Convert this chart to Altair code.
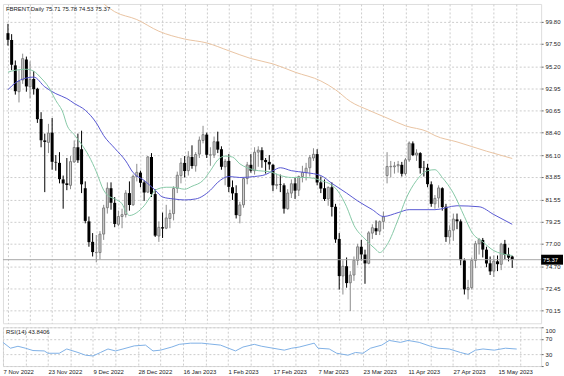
import json
import altair as alt
import pandas as pd

symbol = "FBRENT,Daily"
rsi_name = "RSI(14)"
rsi_last = "43.8406"

date_labels = ["7 Nov 2022", "23 Nov 2022", "9 Dec 2022", "28 Dec 2022", "16 Jan 2023",
               "1 Feb 2023", "17 Feb 2023", "7 Mar 2023", "23 Mar 2023", "11 Apr 2023",
               "27 Apr 2023", "15 May 2023"]

opens = [98.60, 97.90, 95.30, 92.60, 93.80, 95.90, 93.10, 93.90, 92.90, 89.80,
         87.60, 87.40, 88.40, 85.40, 85.30, 83.60, 83.20, 83.00, 85.40, 86.90,
         86.70, 82.70, 79.30, 77.20, 76.10, 76.10, 78.00, 80.70, 82.70, 81.20,
         79.00, 79.80, 80.00, 82.20, 81.00, 83.90, 84.30, 83.30, 82.30, 85.90,
         82.10, 77.80, 78.70, 78.60, 79.60, 80.10, 82.70, 84.00, 85.30, 84.50,
         85.90, 85.00, 86.20, 87.60, 88.20, 86.10, 86.10, 87.50, 86.70, 84.90,
         85.50, 82.80, 82.20, 79.90, 81.00, 83.70, 85.10, 84.50, 86.40, 86.60,
         85.60, 85.40, 85.10, 83.00, 83.10, 83.00, 80.60, 82.20, 83.20, 82.50,
         83.90, 84.30, 84.80, 85.80, 86.20, 83.30, 82.70, 81.60, 82.80, 80.80,
         77.50, 73.70, 74.70, 73.00, 73.80, 75.30, 76.70, 75.90, 75.00, 78.10,
         78.60, 78.30, 79.30, 84.00, 84.90, 84.90, 85.00, 85.10, 84.20, 85.60,
         87.30, 86.10, 86.30, 84.80, 84.80, 83.10, 81.10, 81.70, 82.70, 80.80,
         77.70, 78.40, 79.50, 79.30, 75.30, 72.30, 72.50, 75.30, 77.00, 77.40,
         76.40, 75.00, 74.20, 75.20, 74.90, 77.00, 75.90, 75.71]
highs = [99.56, 98.50, 95.80, 94.80, 96.50, 96.20, 95.70, 94.70, 93.00, 90.50,
         88.30, 89.30, 89.90, 86.10, 86.40, 84.00, 85.80, 86.00, 87.60, 88.30,
         88.60, 83.40, 79.80, 78.10, 77.90, 78.30, 81.00, 83.30, 83.30, 81.80,
         80.40, 80.60, 82.50, 83.40, 84.10, 85.20, 84.50, 83.50, 86.00, 86.30,
         82.60, 79.30, 80.20, 81.00, 80.50, 82.90, 84.40, 85.80, 86.00, 86.50,
         87.10, 86.40, 88.00, 89.10, 88.40, 86.90, 88.00, 88.50, 87.00, 85.70,
         86.20, 83.50, 83.00, 81.30, 83.80, 85.40, 86.20, 86.90, 87.00, 86.90,
         85.80, 86.10, 85.20, 84.20, 84.10, 83.20, 82.60, 83.60, 83.80, 84.00,
         85.00, 85.30, 86.10, 86.80, 86.70, 83.90, 83.60, 82.90, 83.30, 81.10,
         78.10, 75.30, 75.60, 74.20, 75.70, 77.00, 77.40, 76.40, 78.30, 79.00,
         79.40, 79.40, 80.30, 86.40, 85.50, 85.40, 85.50, 85.40, 85.80, 87.50,
         87.50, 86.70, 86.40, 85.50, 85.20, 83.40, 82.00, 83.00, 82.80, 81.10,
         78.90, 80.10, 80.10, 79.50, 75.50, 73.30, 75.60, 77.30, 77.60, 77.60,
         76.70, 75.70, 75.80, 75.80, 77.10, 77.40, 76.60, 75.78]
lows = [97.33, 94.81, 92.30, 91.50, 93.40, 92.60, 91.90, 92.30, 89.40, 86.90,
        82.30, 86.30, 84.60, 84.50, 83.20, 80.60, 82.50, 82.60, 85.30, 85.30,
        82.20, 79.10, 76.70, 75.70, 75.10, 75.40, 77.40, 80.10, 80.50, 78.70,
        78.80, 78.60, 79.70, 80.40, 80.90, 83.40, 82.80, 81.40, 82.20, 81.80,
        77.70, 77.20, 77.60, 78.50, 78.60, 79.40, 82.20, 83.20, 83.80, 84.00,
        84.70, 84.40, 85.80, 87.30, 85.80, 85.00, 85.80, 86.30, 84.60, 83.00,
        82.30, 81.50, 79.60, 79.10, 80.70, 83.10, 84.30, 84.10, 84.90, 84.80,
        84.20, 84.60, 82.40, 82.60, 82.30, 80.10, 80.50, 81.70, 81.60, 81.90,
        83.30, 83.50, 83.90, 85.50, 83.00, 82.20, 81.40, 80.90, 79.80, 77.10,
        72.30, 71.80, 72.50, 70.10, 73.20, 74.80, 75.30, 72.90, 74.90, 77.50,
        77.90, 77.90, 78.50, 83.20, 83.80, 84.20, 84.30, 83.90, 84.00, 85.40,
        86.00, 85.50, 84.20, 83.90, 82.80, 80.80, 80.60, 80.70, 80.40, 77.20,
        77.00, 77.30, 78.50, 74.80, 71.80, 71.30, 72.30, 74.50, 75.90, 75.60,
        74.60, 73.80, 73.60, 74.20, 74.30, 75.40, 75.20, 74.53]
closes = [97.92, 95.36, 92.65, 93.67, 95.99, 93.14, 93.86, 92.86, 89.78, 87.62,
          87.45, 88.36, 85.41, 85.34, 83.63, 83.19, 83.03, 85.43, 86.88, 85.57,
          83.10, 79.35, 77.17, 76.15, 76.10, 77.99, 80.68, 82.70, 81.21, 79.04,
          79.80, 79.99, 82.20, 80.98, 83.92, 84.33, 83.26, 82.26, 85.91, 82.10,
          77.84, 78.69, 78.57, 79.65, 80.10, 82.67, 84.03, 85.28, 84.46, 85.92,
          84.98, 86.16, 87.63, 88.19, 86.13, 86.12, 87.47, 86.66, 84.90, 85.46,
          82.84, 82.17, 79.94, 80.99, 83.69, 85.09, 84.50, 86.39, 86.61, 85.58,
          85.38, 85.14, 83.00, 83.07, 83.05, 80.60, 82.21, 83.16, 82.45, 83.89,
          84.31, 84.75, 85.83, 86.18, 83.29, 82.66, 81.59, 82.78, 80.77, 77.45,
          73.69, 74.70, 72.97, 73.79, 75.32, 76.69, 75.91, 74.99, 78.12, 78.65,
          78.28, 79.27, 79.77, 84.93, 84.94, 84.99, 85.12, 84.18, 85.61, 87.33,
          86.09, 86.31, 84.76, 84.77, 83.12, 81.10, 81.66, 82.73, 80.77, 77.69,
          78.37, 79.54, 79.31, 75.32, 72.33, 72.50, 75.30, 77.01, 77.44, 76.41,
          74.98, 74.17, 75.23, 74.91, 76.96, 75.86, 75.58, 75.37]

ma_fast_idx = [0, 2, 5, 7, 9, 11, 13, 15, 16, 18, 20, 22, 24, 26, 27, 29, 31, 32, 33, 35,
               37, 39, 40, 43, 45, 48, 50, 53, 55, 57, 59, 61, 63, 65, 68, 71, 74, 77, 81, 85,
               89, 92, 94, 97, 100, 101, 103, 106, 108, 111, 114, 116, 118, 121, 124, 126, 129,
               132, 134, 137]
ma_fast_val = [94.6, 94.8, 94.9, 94.7, 94.0, 93.1, 91.7, 90.4, 89.2, 88.2, 87.2, 86.0, 84.4,
               82.5, 82.0, 81.6, 81.1, 80.3, 79.9, 80.2, 80.9, 82.0, 82.5, 82.8, 82.8, 82.6,
               82.9, 83.5, 84.5, 85.6, 86.0, 85.9, 85.2, 84.8, 84.5, 84.4, 84.0, 83.8, 83.8,
               83.5, 82.7, 80.8, 78.9, 77.5, 76.4, 76.1, 76.9, 79.5, 81.5, 83.5, 84.5, 84.6,
               83.8, 82.2, 79.8, 78.2, 77.2, 76.3, 76.0, 75.8]

ma_mid_idx = [0, 2, 5, 7, 10, 13, 16, 18, 21, 24, 26, 29, 32, 34, 37, 40, 42, 45, 48, 51,
              55, 57, 60, 63, 67, 70, 72, 74, 77, 81, 85, 88, 92, 95, 99, 102, 106, 109, 116,
              122, 128, 132, 137]
ma_mid_val = [92.8, 93.5, 94.0, 94.1, 93.1, 92.4, 91.9, 91.4, 90.7, 89.4, 88.1, 86.8, 85.5,
              84.3, 83.5, 82.5, 81.8, 81.6, 81.5, 81.6, 82.5, 83.3, 83.9, 83.8, 83.9, 84.1,
              84.5, 84.8, 84.5, 84.3, 84.0, 83.2, 82.2, 81.4, 80.5, 79.8, 80.2, 80.5, 80.5,
              80.9, 80.8, 80.0, 79.0]

ma_slow_idx = [26, 29, 35, 41, 48, 54, 60, 66, 72, 78, 85, 89, 93, 98, 103, 108, 114, 116,
               122, 130, 137]
ma_slow_val = [101.6, 100.8, 100.0, 98.8, 98.0, 97.6, 96.8, 96.0, 95.45, 94.6, 93.7, 92.8,
               91.6, 90.7, 89.9, 89.1, 88.5, 88.1, 87.45, 86.5, 85.75]

rsi_idx = [0, 2, 4, 6, 8, 11, 12, 15, 17, 20, 22, 24, 26, 28, 30, 32, 35, 38, 40, 42, 45,
           47, 50, 53, 55, 58, 62, 64, 67, 69, 72, 75, 77, 79, 83, 84, 87, 89, 92, 94, 96,
           98, 101, 103, 106, 108, 111, 114, 116, 119, 122, 124, 126, 128, 131, 134, 137]
rsi_val = [61, 46, 51, 46, 40, 39, 33, 33, 44, 35, 28, 26, 35, 44, 39, 44, 52, 54, 39, 41,
           49, 56, 59, 59, 57, 54, 39, 49, 56, 51, 46, 41, 46, 49, 59, 46, 44, 33, 28, 35,
           33, 46, 54, 66, 61, 66, 61, 51, 46, 44, 35, 30, 41, 44, 41, 46, 43.84]

price_ticks = [99.80, 97.50, 95.20, 92.95, 90.65, 88.40, 86.10, 83.85, 81.55, 79.25,
               77.00, 74.70, 72.45, 70.15]
rsi_ticks = [0, 30, 70, 100]

# ---------------------------------------------------------------- styles
FONT = "Liberation Sans"
GRID = "#cdcdcd"
TXT = "#222222"
W = 541
H_MAIN = 321
H_RSI = 39

n = len(closes)
bars = pd.DataFrame({"i": list(range(n)), "open": opens, "high": highs,
                     "low": lows, "close": closes})
bars["up"] = [c >= o for o, c in zip(opens, closes)]

xs = alt.Scale(domain=[0, 143.5], nice=False, zero=False)
ys = alt.Scale(domain=[69.36, 101.085], nice=False, zero=False)
rs = alt.Scale(domain=[0, 100], nice=False, zero=False)

grid_vals = list(range(0, 144, 6))

x_grid_axis = alt.Axis(values=grid_vals, labels=False, ticks=False, domain=False,
                       grid=True, gridColor=GRID, gridDash=[2, 2], gridWidth=1, title=None)
price_axis = alt.Axis(orient="right", values=price_ticks, format=".2f", title=None,
                      labelFontSize=6, labelColor=TXT, labelPadding=2, tickSize=2,
                      tickColor="#666", domain=False, grid=True, gridColor=GRID,
                      gridDash=[2, 2], labelFont=FONT, labelOverlap=False)

X = lambda f: alt.X(f, scale=xs, axis=x_grid_axis)
Y = lambda f: alt.Y(f, scale=ys, axis=price_axis)

base = alt.Chart(bars)

wick_up = base.transform_filter("datum.up").mark_rule(color="#8a8a8a", strokeWidth=1).encode(
    x=X("i:Q"), y=Y("low:Q"), y2="high:Q")
wick_dn = base.transform_filter("!datum.up").mark_rule(color="#000000", strokeWidth=1).encode(
    x=X("i:Q"), y=Y("low:Q"), y2="high:Q")
body_up = base.transform_filter("datum.up").mark_bar(
    size=2, fill="#d2d2d2", stroke="#7d7d7d", strokeWidth=1).encode(
    x=X("i:Q"), y=Y("open:Q"), y2="close:Q")
body_dn = base.transform_filter("!datum.up").mark_bar(size=3, color="#000000").encode(
    x=X("i:Q"), y=Y("open:Q"), y2="close:Q")


def ma_line(idx, vals, color):
    df = pd.DataFrame({"i": idx, "v": vals})
    return alt.Chart(df).mark_line(color=color, strokeWidth=1, interpolate="monotone",
                                   clip=True).encode(x=X("i:Q"), y=Y("v:Q"))


fast = ma_line(ma_fast_idx, ma_fast_val, "#86c9a6")
mid = ma_line(ma_mid_idx, ma_mid_val, "#5858d2")
slow = ma_line(ma_slow_idx, ma_slow_val, "#e9c4a2")

last_df = pd.DataFrame({"p": [closes[-1]], "t": [f"{closes[-1]:.2f}"]})
bid_line = alt.Chart(last_df).mark_rule(color="#a6a6a6", strokeWidth=1).encode(
    y=Y("p:Q"), x=alt.value(0), x2=alt.value(W))
tag_box = alt.Chart(last_df).mark_bar(orient="horizontal", size=10, color="#000000",
                                      clip=False).encode(
    y=Y("p:Q"), x=alt.value(W), x2=alt.value(W + 22))
tag_text = alt.Chart(last_df).mark_text(align="left", baseline="middle", color="#ffffff",
                                        fontSize=6, font=FONT, dx=2).encode(
    y=Y("p:Q"), x=alt.value(W), text="t:N")

header = f"{symbol}  {opens[-1]:.2f} {highs[-1]:.2f} {lows[-1]:.2f} {closes[-1]:.2f}"
head_df = pd.DataFrame({"t": [header]})
head_text = alt.Chart(head_df).mark_text(align="left", baseline="middle", color=TXT,
                                         fontSize=6, font=FONT).encode(
    x=alt.value(3), y=alt.value(5), text="t:N")

main = alt.layer(wick_up, wick_dn, body_up, body_dn, slow, mid, fast,
                 bid_line, tag_box, tag_text, head_text).properties(width=W, height=H_MAIN)

# ---------------------------------------------------------------- RSI panel
labels_js = json.dumps(date_labels)
date_axis = alt.Axis(values=grid_vals,
                     labelExpr=f"datum.value % 12 == 0 ? {labels_js}[datum.value / 12] : ''",
                     labelAlign="left", labelFontSize=6, labelColor=TXT, labelFont=FONT,
                     labelPadding=2, labelOverlap=False, labelBound=False, labelFlush=False,
                     ticks=False, domain=False, grid=True, gridColor=GRID, gridDash=[2, 2],
                     title=None)
rsi_axis = alt.Axis(orient="right", values=rsi_ticks, title=None, labelFontSize=6,
                    labelColor=TXT, labelFont=FONT, labelPadding=2, tickSize=2,
                    tickColor="#666", domain=False, grid=True, gridColor=GRID,
                    gridDash=[2, 2], labelFlush=True, labelOverlap=False)

rsi_df = pd.DataFrame({"i": rsi_idx, "v": rsi_val})
rsi_line = alt.Chart(rsi_df).mark_line(color="#7fb0e6", strokeWidth=1).encode(
    x=alt.X("i:Q", scale=xs, axis=date_axis),
    y=alt.Y("v:Q", scale=rs, axis=rsi_axis),
)
rsi_head = alt.Chart(pd.DataFrame({"t": [f"{rsi_name} {rsi_last}"]})).mark_text(
    align="left", baseline="middle", color=TXT, fontSize=6, font=FONT).encode(
    x=alt.value(3), y=alt.value(5), text="t:N")

rsi = alt.layer(rsi_line, rsi_head).properties(width=W, height=H_RSI)

chart = alt.vconcat(main, rsi, spacing=2).properties(
    padding={"left": 0, "top": 2, "right": 0, "bottom": 0},
    background="#ffffff",
).configure_view(stroke="#7a7a7a", strokeWidth=1).configure(font=FONT)

chart.save("out.html", embed_options={"renderer": "svg", "actions": False})
